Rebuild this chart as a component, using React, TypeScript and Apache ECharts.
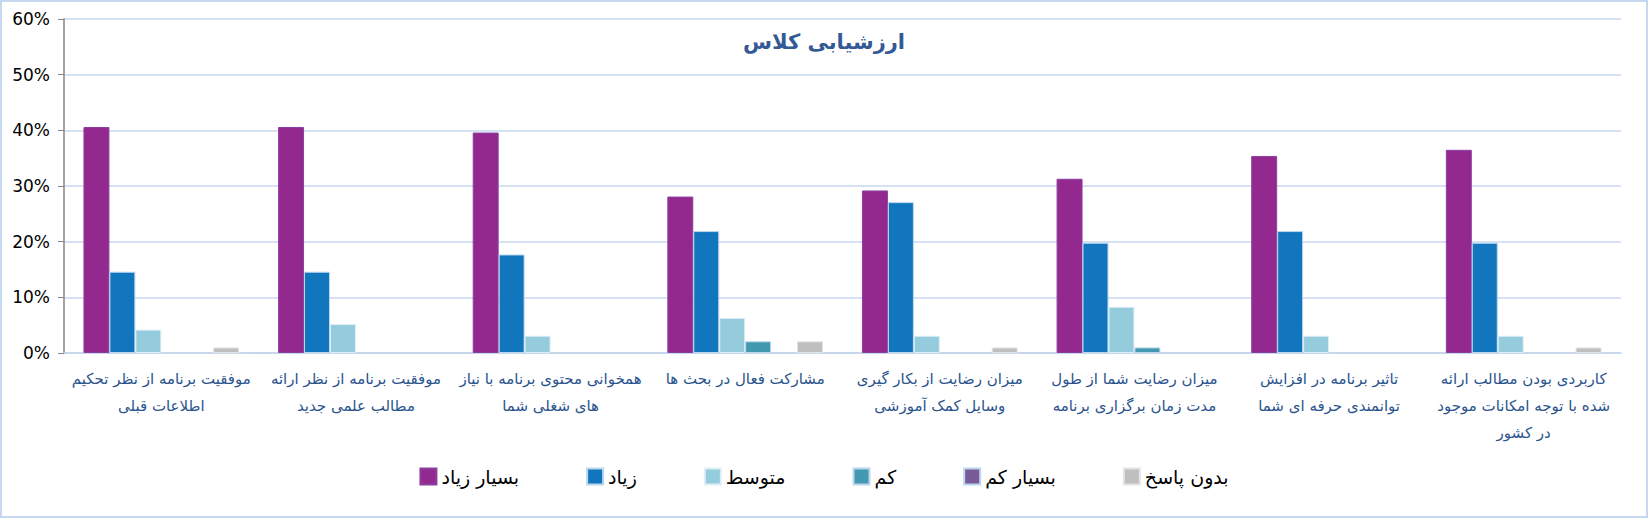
import React, { useEffect, useRef } from "react";
import * as echarts from "echarts";

const categories = [
  "موفقیت برنامه از نظر تحکیم\nاطلاعات قبلی",
  "موفقیت برنامه از نظر ارائه\nمطالب علمی جدید",
  "همخوانی محتوی برنامه با نیاز\nهای شغلی شما",
  "مشارکت فعال در بحث ها",
  "میزان رضایت از بکار گیری\nوسایل کمک آموزشی",
  "میزان رضایت شما از طول\nمدت زمان برگزاری برنامه",
  "تاثیر برنامه در افزایش\nتوانمندی حرفه ای شما",
  "کاربردی بودن مطالب ارائه\nشده با توجه امکانات موجود\nدر کشور",
];

const seriesNames = ["بسیار زیاد", "زیاد", "متوسط", "کم", "بسیار کم", "بدون پاسخ"];

const veryHigh = [40.6, 40.6, 39.6, 28.1, 29.2, 31.3, 35.4, 36.5];
const high = [14.6, 14.6, 17.7, 21.9, 27.1, 19.8, 21.9, 19.8];
const medium = [4.2, 5.2, 3.1, 6.3, 3.1, 8.3, 3.1, 3.1];
const low = [0, 0, 0, 2.1, 0, 1.0, 0, 0];
const veryLow = [0, 0, 0, 0, 0, 0, 0, 0];
const noAnswer = [1.0, 0, 0, 2.1, 1.0, 0, 0, 1.0];

const yTicks = [0, 10, 20, 30, 40, 50, 60];

const seriesData = [veryHigh, high, medium, low, veryLow, noAnswer];
const colors = ["#93298E", "#1176BE", "#94CCDD", "#4399B0", "#775A97", "#BFBFBF"];
const borders = ["#8A3FA0", "#BCD6EE", "#DDEEF5", "#BCD6EE", "#BCD6EE", "#E4E4E4"];

export default function App() {
  const ref = useRef<HTMLDivElement>(null);
  useEffect(() => {
    if (!ref.current) return;
    const chart = echarts.init(ref.current, null, { renderer: "svg" });
    const font = "DejaVu Sans, Noto Sans, sans-serif";
    chart.setOption({
      animation: false,
      backgroundColor: "#ffffff",
      textStyle: { fontFamily: font },
      title: {
        text: "ارزشیابی کلاس",
        left: "center",
        top: 26,
        textStyle: { fontFamily: font, fontSize: 21, fontWeight: "bold", color: "#335A94" },
      },
      legend: {
        data: seriesNames,
        left: "center",
        top: 462,
        icon: "rect",
        itemWidth: 16,
        itemHeight: 16,
        itemGap: 67,
        textStyle: { fontFamily: font, fontSize: 19, color: "#000000" },
      },
      grid: { left: 64, right: 27, top: 19, bottom: 165, containLabel: false },
      xAxis: {
        type: "category",
        data: categories,
        axisLine: { show: true, lineStyle: { color: "#C3D3E8", width: 1.5 } },
        axisTick: { show: false },
        axisLabel: {
          interval: 0,
          fontFamily: font,
          fontSize: 15,
          lineHeight: 27,
          color: "#2A548D",
          margin: 12,
          align: "center",
        },
      },
      yAxis: {
        type: "value",
        min: 0,
        max: 60,
        interval: 10,
        axisLine: { show: true, lineStyle: { color: "#868686", width: 1.5 } },
        axisTick: { show: true, length: 6, lineStyle: { color: "#868686" } },
        axisLabel: {
          formatter: (v: number) => (yTicks.includes(v) ? v + "%" : ""),
          fontFamily: font,
          fontSize: 17,
          color: "#000000",
          margin: 14,
        },
        splitLine: { show: true, lineStyle: { color: "#C6D9F0", width: 1.5 } },
      },
      series: seriesNames.map((name, i) => ({
        name,
        type: "bar",
        data: seriesData[i].map((v) =>
          v === 0 ? { value: 0, itemStyle: { borderWidth: 0, opacity: 0 } } : v
        ),
        barGap: "0%",
        barCategoryGap: "20%",
        itemStyle: { color: colors[i], borderColor: borders[i], borderWidth: 1 },
      })),
      graphic: [
        {
          type: "rect",
          shape: { x: 1, y: 1, width: 1646, height: 516 },
          style: { fill: "none", stroke: "#C5D8EF", lineWidth: 2 },
          silent: true,
        },
      ],
    });
    return () => chart.dispose();
  }, []);
  return (
    <div
      ref={ref}
      style={{ position: "absolute", left: 0, top: 0, width: 1648, height: 518 }}
    />
  );
}
